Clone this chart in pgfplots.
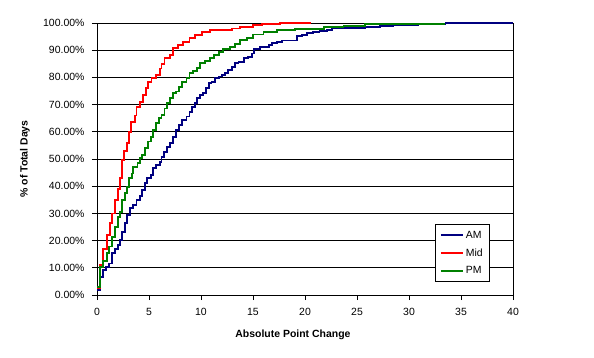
\documentclass[border=0pt]{standalone}
\usepackage{pgfplots}
\pgfplotsset{compat=1.18}
\usepackage{fontspec}
\setmainfont{Liberation Sans}
\definecolor{amc}{RGB}{0,0,128}
\definecolor{midc}{RGB}{255,0,0}
\definecolor{pmc}{RGB}{0,128,0}
\begin{document}
\begin{tikzpicture}
\useasboundingbox (-97bp,-63bp) rectangle (497bp,295bp);
\begin{axis}[
  at={(0,0)}, anchor=south west,
  scale only axis, width=416bp, height=272bp,
  xmin=0, xmax=40, ymin=0, ymax=100,
  xtick={0,5,...,40}, ytick={0,10,...,100},
  tick align=outside, tick pos=left,
  major tick length=5bp,
  every tick/.style={black, line width=0.8bp},
  axis line style={black, line width=0.8bp},
  ymajorgrids, major grid style={black, line width=0.8bp},
  clip=false,
  /pgf/number format/assume math mode=true,
  ticklabel style={font=\fontsize{10.5}{12}\selectfont},
  yticklabel style={xshift=-4bp},
  xticklabel style={yshift=-5bp},
  yticklabel={\pgfmathprintnumber[fixed,fixed zerofill,precision=2]{\tick}\%},
  xlabel={\textbf{Absolute Point Change}},
  ylabel={\textbf{\% of Total Days}},
  label style={font=\fontsize{10.5}{12}\selectfont},
  xlabel style={at={(axis description cs:0.471,-0.145)}, anchor=center},
  ylabel style={at={(axis description cs:-0.173,0.5)}, anchor=center, rotate=0},
  legend style={at={(axis description cs:0.945,0.049)}, anchor=south east,
    draw=black, line width=0.8bp, fill=white, font=\fontsize{10.5}{12}\selectfont,
    row sep=5bp, inner xsep=5bp, inner ysep=4bp},
  legend cell align=left,
  legend image code/.code={\draw[#1, line width=1.8bp] (0bp,0bp) -- (22bp,0bp);},
  every axis plot/.append style={line width=1.8bp, const plot},
]
\addplot[amc] coordinates {
(0,1.8) (0.3,6.7) (0.55,9.2) (0.87,10.4) (1.15,11.6) (1.41,15.3) (1.73,16.8) (2.0,18.4) (2.2,20.2) (2.43,23.3)
(2.7,26.4) (2.9,29.4) (3.17,31.9) (3.5,33.1) (3.8,34.9) (4.13,36.4) (4.3,38.6) (4.6,41.1) (4.84,42.9) (5.16,44.1)
(5.4,46.6) (5.7,47.8) (6.06,49) (6.2,50.8) (6.44,52.7) (6.7,54.5) (7.0,55.8) (7.34,58.2) (7.6,60.7) (7.9,62.5)
(8.2,64.3) (8.6,65.6) (8.9,67.4) (9.1,69.2) (9.4,70.5) (9.65,72.3) (9.9,73.5) (10.2,74.2) (10.5,76) (10.8,77.8)
(11.0,78.4) (11.35,79.7) (11.7,80.3) (12.0,80.9) (12.3,81.5) (12.6,82.7) (12.95,83.9) (13.3,85.2) (13.6,85.8)
(14.1,87) (14.5,87.6) (14.9,88.8) (15.1,90.3) (15.7,91.1) (16.5,91.9) (16.8,92.5) (17.3,93.1) (17.8,93.6)
(19.2,95.2) (19.7,95.6) (20.2,96.2) (20.8,96.8) (21.4,97.2) (22.1,97.5) (22.6,98) (23.7,98.3) (25.8,98.6)
(27.2,98.9) (28.5,99.3) (30.9,99.5) (33.5,99.9) (39.4,100) (40,100)
};
\addlegendentry{AM}
\addplot[midc] coordinates {
(0,2.5) (0.3,11) (0.6,17) (0.93,22) (1.25,26.5) (1.47,30) (1.73,35) (2.0,39) (2.2,43) (2.4,49.6) (2.6,53)
(2.85,56) (3.1,60) (3.3,63.7) (3.65,66) (3.8,69) (4.1,71) (4.4,73.5) (4.7,76) (4.9,78.4) (5.25,79.7) (5.7,81)
(6.05,83.3) (6.2,85) (6.5,87) (7.0,88.2) (7.3,90.7) (7.8,91.9) (8.3,93.1) (8.9,94.4) (9.4,95.6) (10.1,96.8)
(10.9,97.4) (12.95,98) (13.75,98.6) (15.0,99.2) (15.9,99.7) (17.6,100) (20.6,100)
};
\addlegendentry{Mid}
\addplot[pmc] coordinates {
(0,3) (0.3,10.4) (0.61,12.5) (0.93,15.3) (1.15,17.8) (1.41,21.4) (1.73,25.1) (1.99,28.8) (2.21,30.6) (2.43,34.9)
(2.69,37.4) (2.92,39.8) (3.1,42.9) (3.33,44.7) (3.5,47.2) (3.9,48.4) (4.1,50.3) (4.3,51.5) (4.6,53.9) (4.93,56.4)
(5.2,58.2) (5.4,60.7) (5.7,63.1) (6.0,65) (6.2,66.2) (6.5,68.6) (6.76,70.5) (7.0,72.3) (7.3,74.2) (7.6,74.8)
(7.9,76.6) (8.2,78.4) (8.6,79.7) (8.9,81.5) (9.2,82.4) (9.65,83.6) (9.9,85.2) (10.4,86) (10.9,87.2) (11.25,88.2)
(11.7,89.4) (12.1,90.4) (12.8,91.3) (13.3,92.2) (13.75,93.8) (14.4,94.6) (15.0,95.8) (16.0,96.8) (17.3,97.3)
(19.0,97.9) (21.8,98.4) (23.7,99) (25.8,99.7) (33.5,99.7)
};
\addlegendentry{PM}
\end{axis}
\end{tikzpicture}
\end{document}
